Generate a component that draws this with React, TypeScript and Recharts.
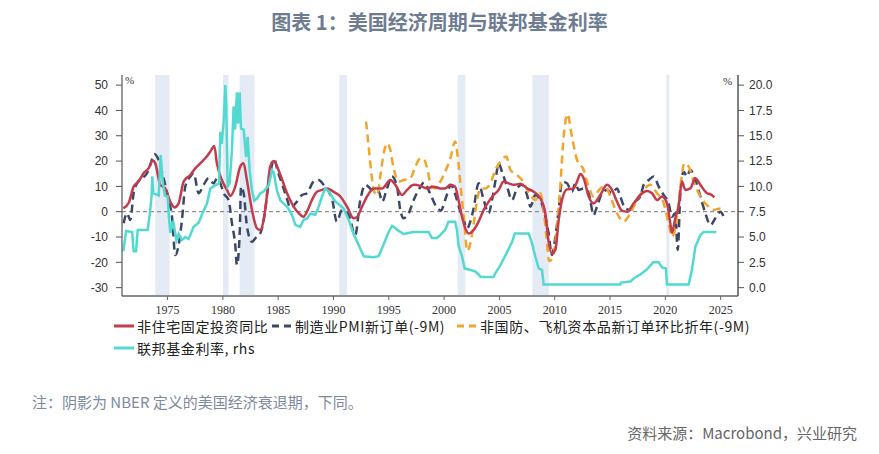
import React from 'react';
import { LineChart, Line, XAxis, YAxis, ReferenceArea, ReferenceLine } from 'recharts';

const yearTicks = [1975, 1980, 1985, 1990, 1995, 2000, 2005, 2010, 2015, 2020, 2025];
const leftTicks = [-30, -20, -10, 0, 10, 20, 30, 40, 50];
const rightTicks = [0, 2.5, 5, 7.5, 10, 12.5, 15, 17.5, 20];

const recessions: [number, number][] = [
  [1973.88, 1975.18], [1980.01, 1980.52], [1981.51, 1982.86], [1990.53, 1991.22],
  [2001.23, 2001.92], [2007.98, 2009.47], [2020.09, 2020.37],
];

const seriesNames = [
  '非住宅固定投资同比',
  '制造业PMI新订单(-9M)',
  '非国防、飞机资本品新订单环比折年(-9M)',
  '联邦基金利率, rhs',
];

// 非住宅固定投资同比 (lhs, %)
const investment: [number, number][] = [
  [1971.0, 1.3], [1971.5, 3.6], [1971.93, 9.9], [1972.38, 11.9], [1972.83, 15.2], [1973.28, 17.1],
  [1973.65, 20.2], [1973.89, 19.1], [1974.34, 10.6], [1974.79, 9.2], [1975.24, 4.0], [1975.63, 1.7],
  [1976.0, 3.3], [1976.45, 11.9], [1977.05, 14.5], [1977.5, 17.1], [1977.96, 19.1], [1978.41, 21.1],
  [1978.86, 23.7], [1979.22, 26.0], [1979.46, 19.1], [1979.91, 12.5], [1980.37, 8.6], [1980.67, 6.2],
  [1981.12, 9.9], [1981.57, 17.8], [1981.87, 19.1], [1982.17, 12.5], [1982.63, 0.7], [1983.08, -6.6],
  [1983.38, -7.2], [1983.83, 0.7], [1984.28, 17.8], [1984.59, 20.0], [1985.2, 14.5], [1985.8, 7.3],
  [1986.4, 2.0], [1986.85, -0.6], [1987.3, -2.0], [1987.6, 0.0], [1988.05, 4.6], [1988.5, 7.9],
  [1988.96, 8.6], [1989.4, 9.2], [1990.0, 7.9], [1990.62, 6.0], [1991.22, 2.0], [1991.82, -2.6],
  [1992.1, -2.2], [1992.58, 2.0], [1993.03, 6.0], [1993.63, 9.2], [1994.4, 9.2], [1995.14, 12.5],
  [1995.6, 10.6], [1996.2, 6.6], [1996.65, 8.6], [1997.25, 10.6], [1997.85, 10.2], [1998.45, 9.2],
  [1999.06, 9.9], [1999.66, 9.2], [2000.1, 9.2], [2000.56, 10.6], [2001.0, 9.9], [2001.3, 4.6],
  [2001.62, -2.0], [2001.92, -6.6], [2002.22, -8.6], [2002.67, -7.2], [2003.12, -3.9], [2003.58, 0.7],
  [2004.03, 4.0], [2004.48, 6.6], [2004.93, 8.6], [2005.38, 11.9], [2005.84, 11.2], [2006.29, 10.6],
  [2006.9, 11.0], [2007.5, 9.2], [2008.1, 7.9], [2008.7, 5.3], [2009.15, -0.6], [2009.45, -11.9],
  [2009.75, -16.5], [2010.06, -15.1], [2010.36, -3.3], [2010.66, 4.6], [2011.11, 8.8], [2011.72, 9.2],
  [2012.02, 11.9], [2012.32, 14.9], [2012.62, 13.2], [2013.07, 6.0], [2013.52, 3.3], [2014.12, 6.6],
  [2014.73, 10.6], [2015.18, 8.6], [2015.63, 4.0], [2016.08, 0.4], [2016.54, 0.0], [2017.14, 3.3],
  [2017.74, 6.6], [2018.34, 8.2], [2018.8, 7.3], [2019.25, 4.6], [2019.7, 6.0], [2020.15, 3.3],
  [2020.45, -4.6], [2020.6, -8.3], [2020.9, -2.6], [2021.2, 2.0], [2021.5, 11.9], [2021.81, 8.6],
  [2022.26, 9.2], [2022.71, 13.2], [2023.17, 10.6], [2023.77, 7.3], [2024.07, 6.9], [2024.43, 5.7],
];

// 制造业PMI新订单(-9M) (lhs)
const pmiOrders: [number, number][] = [
  [1971.03, -4.6], [1971.33, -0.6], [1971.63, -3.3], [1971.93, 7.3], [1972.23, 11.2], [1972.69, 13.2],
  [1973.14, 15.2], [1973.44, 18.5], [1973.8, 22.8], [1974.19, 20.4], [1974.64, 13.2], [1975.1, 4.6],
  [1975.4, -2.0], [1975.7, -17.1], [1976.0, -13.2], [1976.3, -3.3], [1976.6, 9.9], [1977.06, 13.9],
  [1977.36, 15.2], [1977.81, 7.3], [1978.26, 10.6], [1978.71, 13.2], [1979.17, 11.2], [1979.47, 13.2],
  [1979.77, 11.2], [1980.07, 7.3], [1980.52, 4.6], [1980.82, -4.6], [1981.12, -13.2], [1981.27, -21.1],
  [1981.52, -8.6], [1981.64, 9.9], [1981.88, 7.3], [1982.18, -5.9], [1982.63, -11.9], [1982.93, -10.5],
  [1983.38, -8.6], [1983.69, -3.3], [1984.14, 11.2], [1984.65, 20.7], [1984.95, 16.0], [1985.34, 11.2],
  [1985.8, 5.0], [1986.1, 1.5], [1986.7, 4.0], [1987.15, 6.6], [1987.6, 7.3], [1988.2, 11.9],
  [1988.66, 12.5], [1989.11, 10.6], [1989.56, 7.9], [1989.86, 5.3], [1990.3, -3.9], [1990.77, 0.7],
  [1991.37, -1.3], [1991.97, -9.2], [1992.4, 4.0], [1992.88, 10.6], [1993.48, 8.6], [1994.1, 7.9],
  [1994.4, 4.0], [1994.84, 9.2], [1995.29, 13.9], [1995.74, 9.9], [1996.04, 0.7], [1996.34, -2.6],
  [1996.8, -0.6], [1997.25, 4.6], [1997.7, 8.6], [1998.2, 11.5], [1998.7, 7.5], [1999.3, 2.0],
  [1999.7, 0.5], [2000.2, 6.0], [2000.6, 10.5], [2001.0, 7.0], [2001.4, 1.0], [2001.77, -3.3],
  [2002.07, -6.6], [2002.37, -3.9], [2002.67, 1.3], [2003.12, 11.2], [2003.58, 4.6], [2004.03, -0.6],
  [2004.33, 4.6], [2004.63, 11.9], [2004.93, 19.1], [2005.23, 15.8], [2005.69, 9.9], [2006.14, 4.6],
  [2006.59, 9.2], [2007.04, 10.6], [2007.5, 6.6], [2007.8, 2.0], [2008.25, 6.6], [2008.7, 4.6],
  [2009.15, -2.0], [2009.45, -8.6], [2009.75, -17.1], [2010.06, -9.9], [2010.36, 0.7], [2010.66, 11.9],
  [2011.11, 11.2], [2011.56, 7.9], [2011.86, 11.2], [2012.17, 8.6], [2012.62, 9.2], [2013.07, 7.3],
  [2013.52, -1.3], [2013.82, 2.0], [2014.28, 7.3], [2014.73, 8.6], [2015.18, 7.3], [2015.63, 9.2],
  [2015.93, 6.0], [2016.38, 1.3], [2016.84, 0.7], [2017.29, 4.0], [2017.74, 6.0], [2018.04, 10.6],
  [2018.5, 12.5], [2018.95, 13.9], [2019.4, 9.9], [2019.85, 6.6], [2020.3, 3.3], [2020.6, -2.0],
  [2020.9, -0.6], [2021.12, -15.1], [2021.36, 7.3], [2021.66, 15.8], [2021.96, 13.9], [2022.26, 16.5],
  [2022.71, 12.5], [2023.17, 6.0], [2023.62, -0.6], [2024.07, -5.3], [2024.52, -2.6], [2024.97, 0.0],
  [2025.28, -2.0],
];

// 非国防、飞机资本品新订单环比折年(-9M) (lhs)
const capGoodsOrders: [number, number][] = [
  [1992.94, 35.6], [1993.18, 25.7], [1993.39, 16.5], [1993.63, 8.6], [1993.93, 6.6], [1994.23, 13.9],
  [1994.54, 23.1], [1994.84, 27.0], [1995.14, 24.4], [1995.44, 17.1], [1995.9, 11.9], [1996.35, 12.5],
  [1996.95, 13.2], [1997.4, 17.8], [1997.85, 21.1], [1998.2, 20.5], [1998.5, 16.5], [1998.8, 10.5],
  [1999.2, 9.2], [1999.66, 11.9], [2000.1, 15.8], [2000.56, 21.1], [2001.0, 27.7], [2001.23, 21.8],
  [2001.5, 9.9], [2001.8, -3.0], [2002.1, -15.5], [2002.4, -12.0], [2002.7, -4.0], [2003.0, 5.0],
  [2003.3, 9.2], [2003.73, 9.2], [2004.18, 11.2], [2004.63, 16.5], [2005.08, 19.8], [2005.63, 21.8],
  [2005.99, 16.5], [2006.59, 14.5], [2007.04, 12.5], [2007.65, 7.9], [2008.25, 4.6], [2008.7, 7.3],
  [2009.0, 0.7], [2009.25, -10.0], [2009.5, -19.5], [2009.85, -17.8], [2010.2, -5.9], [2010.5, 9.9],
  [2010.81, 29.7], [2011.15, 38.5], [2011.56, 29.7], [2012.02, 20.4], [2012.62, 16.5], [2013.07, 9.9],
  [2013.52, 6.0], [2014.12, 9.2], [2014.58, 9.9], [2015.03, 6.0], [2015.63, -0.6], [2016.23, -3.9],
  [2016.84, -0.6], [2017.44, 4.6], [2018.04, 8.6], [2018.64, 10.6], [2019.25, 7.3], [2019.85, 3.3],
  [2020.3, -4.6], [2020.6, -9.9], [2020.9, -6.6], [2021.36, 9.9], [2021.72, 19.1], [2022.11, 17.8],
  [2022.56, 11.9], [2023.17, 6.0], [2023.77, 2.6], [2024.37, 0.7], [2024.97, 1.3], [2025.28, 1.3],
];

// 联邦基金利率 (rhs, %)
const fedFunds: [number, number][] = [
  [1971.0, 3.6], [1971.25, 5.6], [1971.8, 5.5], [1971.93, 3.6], [1972.15, 3.6], [1972.3, 5.7],
  [1973.2, 5.7], [1973.4, 7.3], [1973.55, 9.0], [1973.62, 11.0], [1973.72, 9.3], [1974.2, 9.1],
  [1974.38, 13.1], [1974.55, 10.6], [1974.75, 9.1], [1975.0, 9.0], [1975.12, 7.0], [1975.25, 5.4],
  [1975.5, 6.6], [1975.8, 4.7], [1976.0, 5.3], [1976.3, 4.7], [1976.6, 5.0], [1976.9, 4.8],
  [1977.36, 6.0], [1977.81, 6.4], [1978.1, 7.2], [1978.56, 8.3], [1978.86, 9.8], [1979.3, 10.1],
  [1979.65, 10.3], [1979.77, 15.4], [1979.9, 14.2], [1980.07, 16.4], [1980.22, 20.0], [1980.31, 17.9],
  [1980.43, 10.0], [1980.61, 10.3], [1980.82, 13.6], [1980.97, 17.9], [1981.1, 15.6], [1981.27, 19.3],
  [1981.37, 16.2], [1981.52, 19.3], [1981.64, 15.7], [1981.88, 15.6], [1982.1, 12.9], [1982.24, 14.9],
  [1982.42, 11.6], [1982.63, 9.6], [1982.84, 8.6], [1983.08, 8.8], [1983.38, 9.3], [1983.69, 9.5],
  [1984.14, 10.1], [1984.44, 11.6], [1984.59, 11.4], [1984.89, 9.6], [1985.2, 8.6], [1985.5, 8.3],
  [1985.8, 8.0], [1986.25, 7.2], [1986.55, 6.2], [1987.0, 6.0], [1987.3, 6.7], [1987.6, 6.8],
  [1987.91, 7.3], [1988.36, 7.2], [1988.66, 8.0], [1988.96, 9.0], [1989.26, 9.8], [1989.56, 9.5],
  [1989.86, 9.0], [1990.17, 8.5], [1990.62, 8.1], [1990.92, 7.8], [1991.37, 6.7], [1991.82, 5.3],
  [1992.28, 4.2], [1992.73, 3.1], [1993.63, 3.0], [1994.08, 3.1], [1994.39, 3.9], [1994.69, 4.7],
  [1994.99, 5.5], [1995.29, 6.1], [1995.44, 6.0], [1995.9, 5.6], [1996.35, 5.3], [1997.2, 5.5],
  [1998.6, 5.5], [1998.9, 4.9], [1999.36, 4.9], [1999.66, 5.2], [2000.1, 5.7], [2000.4, 6.5],
  [2001.0, 6.5], [2001.16, 5.7], [2001.32, 4.1], [2001.62, 3.1], [2001.86, 1.9], [2002.37, 1.75],
  [2002.82, 1.6], [2003.13, 1.3], [2003.3, 1.05], [2004.45, 1.05], [2004.63, 1.4], [2005.08, 2.2],
  [2005.69, 3.5], [2006.14, 4.5], [2006.4, 5.35], [2007.65, 5.35], [2007.95, 4.4], [2008.25, 3.05],
  [2008.55, 1.9], [2008.85, 1.75], [2009.0, 0.3], [2015.93, 0.3], [2016.0, 0.5], [2016.84, 0.6],
  [2017.14, 0.9], [2017.74, 1.3], [2018.34, 1.8], [2018.9, 2.5], [2019.4, 2.5], [2019.7, 2.0],
  [2020.05, 1.9], [2020.15, 0.3], [2022.11, 0.3], [2022.4, 1.75], [2022.72, 4.05], [2023.17, 5.2],
  [2023.47, 5.5], [2024.6, 5.5],
];

const toPoints = (arr: [number, number][]) => arr.map(([x, y]) => ({ x, y }));

const COLORS = ['#c43b4c', '#3c4868', '#f2a52c', '#52d9d0'];

const tickText = { fontSize: 12, fill: '#333', fontFamily: '"Liberation Sans", Arial, sans-serif' };
const xTickText = { fontSize: 12, fill: '#333', fontFamily: '"Liberation Serif", "Times New Roman", serif' };
const cjk = '"Noto Sans CJK SC", "Noto Sans", sans-serif';

function Swatch({ color, dashed }: { color: string; dashed?: boolean }) {
  return (
    <svg width={20} height={6} style={{ display: 'block' }}>
      <line x1={0} y1={3} x2={20} y2={3} stroke={color} strokeWidth={3} strokeDasharray={dashed ? '7 5' : undefined} />
    </svg>
  );
}

function LegendItem({ left, top, color, dashed, label }: { left: number; top: number; color: string; dashed?: boolean; label: string }) {
  return (
    <div style={{ position: 'absolute', left, top: top - 10, height: 20, display: 'flex', alignItems: 'center', whiteSpace: 'nowrap' }}>
      <Swatch color={color} dashed={dashed} />
      <span style={{ marginLeft: 3, fontFamily: cjk, fontSize: 14, letterSpacing: 0.6, color: '#222', lineHeight: '20px' }}>{label}</span>
    </div>
  );
}

export default function App() {
  return (
    <div style={{ position: 'absolute', left: 0, top: 0, width: 879, height: 454, background: '#fff', overflow: 'hidden' }}>
      <div style={{ position: 'absolute', left: 0, top: 9, width: 879, textAlign: 'center', fontFamily: cjk, fontSize: 20, fontWeight: 700, color: '#6e7c92', lineHeight: '26px' }}>
        图表 1：美国经济周期与联邦基金利率
      </div>
      <div style={{ position: 'absolute', left: 0, top: 0 }}>
        <LineChart width={879} height={454} margin={{ top: 75, right: 0, bottom: 128, left: 0 }}>
          <XAxis
            type="number"
            dataKey="x"
            domain={[1970.88, 2026.57]}
            ticks={yearTicks}
            allowDataOverflow
            tick={xTickText}
            tickSize={4}
            tickMargin={5}
            tickLine={{ stroke: '#666' }}
            axisLine={{ stroke: '#8c8c8c', strokeWidth: 2 }}
            height={30}
          />
          <YAxis
            yAxisId="l"
            type="number"
            domain={[-33.3, 54]}
            ticks={leftTicks}
            allowDataOverflow
            width={122}
            tick={tickText}
            tickSize={6}
            tickMargin={8}
            tickLine={{ stroke: '#555' }}
            axisLine={{ stroke: '#555', strokeWidth: 1.2 }}
          />
          <YAxis
            yAxisId="r"
            orientation="right"
            type="number"
            domain={[-0.825, 21]}
            ticks={rightTicks}
            allowDataOverflow
            width={141}
            tick={tickText}
            tickSize={6}
            tickMargin={5}
            tickFormatter={(v: number) => v.toFixed(1)}
            tickLine={{ stroke: '#555' }}
            axisLine={{ stroke: '#555', strokeWidth: 1.5 }}
          />
          {recessions.map(([a, b], i) => (
            <ReferenceArea key={i} yAxisId="l" x1={a} x2={b} y1={-33.3} y2={54} fill="#e4ebf5" fillOpacity={1} stroke="none" ifOverflow="hidden" />
          ))}
          <ReferenceLine yAxisId="l" y={0} stroke="#777" strokeDasharray="4 3" strokeWidth={1} />
          <Line yAxisId="l" data={toPoints(pmiOrders)} dataKey="y" type="monotone" stroke={COLORS[1]} strokeWidth={2.5} strokeDasharray="8 5" dot={false} isAnimationActive={false} name={seriesNames[1]} />
          <Line yAxisId="l" data={toPoints(capGoodsOrders)} dataKey="y" type="monotone" stroke={COLORS[2]} strokeWidth={2.5} strokeDasharray="8 5" dot={false} isAnimationActive={false} name={seriesNames[2]} />
          <Line yAxisId="l" data={toPoints(investment)} dataKey="y" type="monotone" stroke={COLORS[0]} strokeWidth={2.5} dot={false} isAnimationActive={false} name={seriesNames[0]} />
          <Line yAxisId="r" data={toPoints(fedFunds)} dataKey="y" type="linear" stroke={COLORS[3]} strokeWidth={2.5} dot={false} isAnimationActive={false} name={seriesNames[3]} />
        </LineChart>
      </div>
      <div style={{ position: 'absolute', left: 125, top: 74, fontFamily: '"Liberation Serif", serif', fontSize: 11, color: '#333' }}>%</div>
      <div style={{ position: 'absolute', left: 723, top: 75, fontFamily: '"Liberation Serif", serif', fontSize: 11, color: '#333' }}>%</div>
      <LegendItem left={114} top={326} color={COLORS[0]} label={seriesNames[0]} />
      <LegendItem left={272} top={326} color={COLORS[1]} dashed label={seriesNames[1]} />
      <LegendItem left={457} top={326} color={COLORS[2]} dashed label={seriesNames[2]} />
      <LegendItem left={114} top={348} color={COLORS[3]} label={seriesNames[3]} />
      <div style={{ position: 'absolute', left: 32, top: 392, fontFamily: cjk, fontSize: 15, color: '#7d8a9e', lineHeight: '20px', whiteSpace: 'nowrap' }}>
        注：阴影为 NBER 定义的美国经济衰退期，下同。
      </div>
      <div style={{ position: 'absolute', right: 22, top: 423, fontFamily: cjk, fontSize: 15, color: '#666', lineHeight: '20px', whiteSpace: 'nowrap' }}>
        资料来源：Macrobond，兴业研究
      </div>
    </div>
  );
}
